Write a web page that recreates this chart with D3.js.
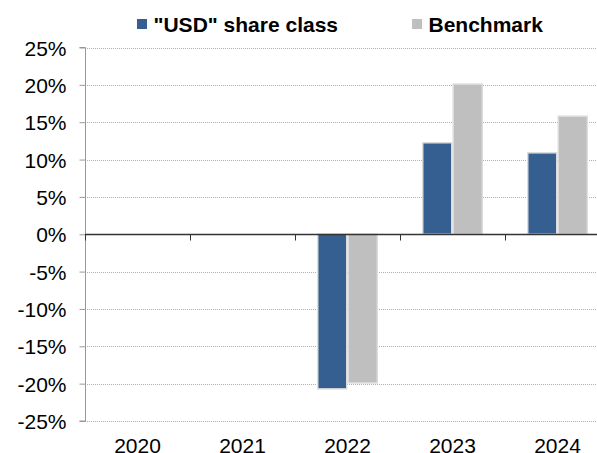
<!DOCTYPE html>
<html>
<head>
<meta charset="utf-8">
<script src="https://cdn.jsdelivr.net/npm/d3@7"></script>
<style>
  body { margin: 0; background: #fff; }
  svg { display: block; font-family: "Liberation Sans", Arial, sans-serif; }
</style>
</head>
<body>
<div id="chart"></div>
<script>
const years = ["2020", "2021", "2022", "2023", "2024"];
const seriesNames = ['"USD" share class', "Benchmark"];
const usdValues = [null, null, -20.7, 12.25, 10.9];
const benchValues = [null, null, -19.9, 20.1, 15.8];
const yTicks = [25, 20, 15, 10, 5, 0, -5, -10, -15, -20, -25];

const dims = { width: 597, height: 453 };
const margin = { top: 47.5, left: 85, bottom: 421, right: 610 };
const colors = ["#365f91", "#bfbfbf"];

const svg = d3
  .select("#chart")
  .append("svg")
  .attr("width", dims.width)
  .attr("height", dims.height);

const yScale = d3.scaleLinear().domain([-25, 25]).range([margin.bottom, margin.top]);
const xScale = d3.scaleBand().domain(years).range([margin.left, margin.right]);
const xInner = d3
  .scaleBand()
  .domain(seriesNames)
  .range([0, xScale.bandwidth()])
  .paddingOuter(0.72)
  .paddingInner(0);

// gridlines
svg
  .append("g")
  .selectAll("line")
  .data(yTicks.filter(d => d !== 0))
  .enter()
  .append("line")
  .attr("x1", margin.left)
  .attr("x2", dims.width)
  .attr("y1", d => Math.round(yScale(d)) + 0.5)
  .attr("y2", d => Math.round(yScale(d)) + 0.5)
  .attr("stroke", "#b0b0b0")
  .attr("stroke-width", 1)
  .attr("stroke-dasharray", "1,1");

// y axis
const yAxis = d3
  .axisLeft(yScale)
  .tickValues(yTicks)
  .tickSize(6)
  .tickPadding(13)
  .tickFormat(d => d + "%");

const yAxisGroup = svg
  .append("g")
  .attr("transform", `translate(${margin.left + 0.5},0)`)
  .call(yAxis);
yAxisGroup.select(".domain").attr("stroke", "#999").attr("d", `M-6,${yScale(25)}H0V${yScale(-25)}H-6`);
yAxisGroup.selectAll(".tick line").attr("stroke", "#999");
yAxisGroup
  .selectAll("text")
  .attr("fill", "#000")
  .style("font-size", "21px")
  .attr("dy", "0.36em");

// bars
const rows = years.map((y, i) => ({ year: y, vals: [usdValues[i], benchValues[i]] }));
const groups = svg
  .append("g")
  .selectAll("g")
  .data(rows)
  .enter()
  .append("g")
  .attr("transform", d => `translate(${xScale(d.year)},0)`);

groups
  .selectAll("rect")
  .data(d => d.vals.map((v, j) => ({ name: seriesNames[j], value: v, j })).filter(d => d.value !== null))
  .enter()
  .append("rect")
  .attr("x", d => xInner(d.name) + 0.75)
  .attr("width", xInner.bandwidth() - 1.5)
  .attr("y", d => yScale(Math.max(0, d.value)))
  .attr("height", d => Math.abs(yScale(d.value) - yScale(0)))
  .attr("fill", d => colors[d.j])
  .attr("stroke", "#dcdcdc")
  .attr("stroke-width", 1.5);

// zero line with category ticks
const zeroY = Math.round(yScale(0)) + 0.5;
svg
  .append("line")
  .attr("x1", margin.left)
  .attr("x2", dims.width)
  .attr("y1", zeroY)
  .attr("y2", zeroY)
  .attr("stroke", "#333")
  .attr("stroke-width", 1.5);

svg
  .append("g")
  .selectAll("line")
  .data(years)
  .enter()
  .append("line")
  .attr("x1", d => Math.round(xScale(d)) + 0.5)
  .attr("x2", d => Math.round(xScale(d)) + 0.5)
  .attr("y1", zeroY)
  .attr("y2", zeroY + 6)
  .attr("stroke", "#333");

// x labels
svg
  .append("g")
  .selectAll("text")
  .data(years)
  .enter()
  .append("text")
  .attr("x", d => xScale(d) + xScale.bandwidth() / 2)
  .attr("y", 453)
  .attr("text-anchor", "middle")
  .style("font-size", "21px")
  .text(d => d);

// legend
const legendX = [137, 412];
const legend = svg
  .append("g")
  .selectAll("g")
  .data(seriesNames)
  .enter()
  .append("g")
  .attr("transform", (d, i) => `translate(${legendX[i]},0)`);

legend
  .append("rect")
  .attr("x", 0)
  .attr("y", 19)
  .attr("width", 10)
  .attr("height", 10)
  .attr("fill", (d, i) => colors[i]);

legend
  .append("text")
  .attr("x", 16.5)
  .attr("y", 32)
  .style("font-size", "21px")
  .style("font-weight", "bold")
  .text(d => d);
</script>
</body>
</html>
